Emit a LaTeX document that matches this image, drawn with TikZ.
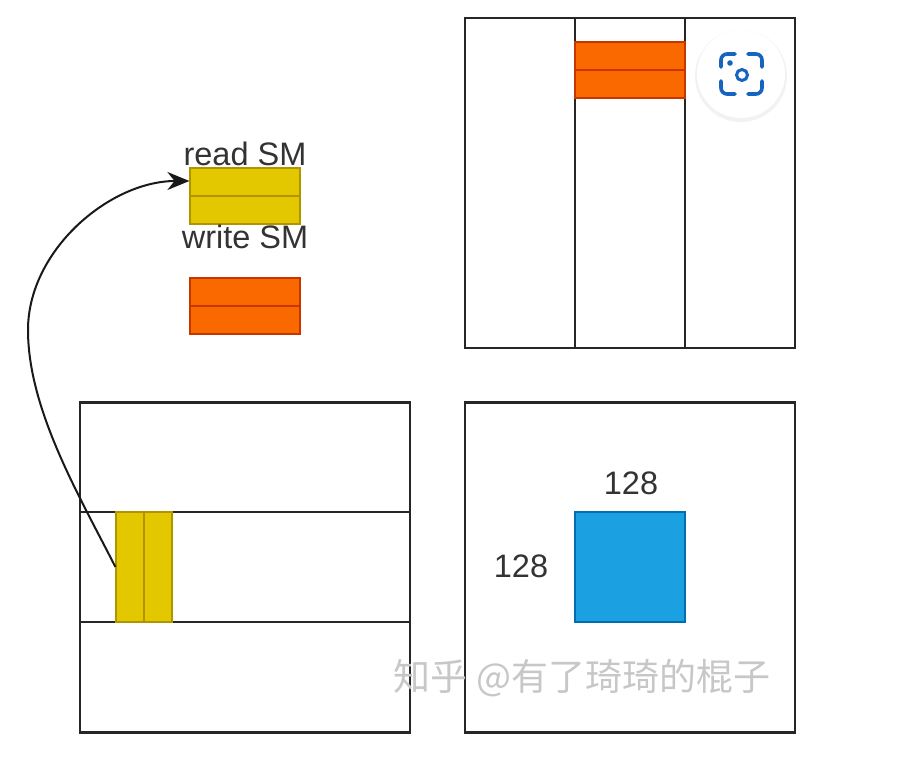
\documentclass[tikz,border=0pt]{standalone}
\usepackage{fontspec}
\setmainfont{Liberation Sans}
\newfontfamily\cjk{Noto Sans CJK SC}
\usetikzlibrary{arrows.meta}
\definecolor{yfill}{HTML}{E3C800}
\definecolor{ydraw}{HTML}{B09500}
\definecolor{ofill}{HTML}{FA6800}
\definecolor{odraw}{HTML}{C73500}
\definecolor{bfill}{HTML}{1BA1E2}
\definecolor{bdraw}{HTML}{006EAF}
\definecolor{lensblue}{HTML}{1565C0}
\tikzset{
  frame/.style={draw=black!85, line width=2.2pt, minimum width=330pt, minimum height=330pt, inner sep=0pt},
  ybox/.style={draw=ydraw, fill=yfill, line width=1.2pt, inner sep=0pt},
  obox/.style={draw=odraw, fill=ofill, line width=1.2pt, inner sep=0pt},
  lbl/.style={inner sep=0pt, font=\fontsize{32.5}{36}\selectfont, text=black!80},
  divline/.style={line width=2.2pt, draw=black!85},
}
\begin{document}
\begin{tikzpicture}[x=1pt,y=-1pt]
\useasboundingbox (0,0) rectangle (898,783);
% top-right frame
\node[frame] (tr) at (630,183) {};
\draw[divline] (575,18) -- (575,348);
\draw[divline] (685,18) -- (685,348);
\node[obox, minimum width=110pt, minimum height=56pt] (tro) at (630,70) {};
\draw[odraw, line width=1.2pt] (tro.west) -- (tro.east);
% bottom-left frame
\node[frame] (bl) at (245,567.5) {};
\draw[divline] (80,512) -- (410,512);
\draw[divline] (80,622) -- (410,622);
\node[ybox, minimum width=56pt, minimum height=110pt] (bly) at (144,567) {};
\draw[ydraw, line width=1.2pt] (bly.north) -- (bly.south);
% bottom-right frame
\node[frame] (br) at (630,567.5) {};
\node[draw=bdraw, fill=bfill, line width=1.2pt, minimum width=110pt, minimum height=110pt, inner sep=0pt] (blue) at (630,567) {};
\node[lbl] (top128) at (631,483) {128};
\node[lbl] (left128) at (521,566) {128};
% read / write SM
\node[ybox, minimum width=110pt, minimum height=56pt] (rsm) at (245,196) {};
\draw[ydraw, line width=1.2pt] (rsm.west) -- (rsm.east);
\node[lbl] (rlbl) at (245,154) {read SM};
\node[lbl] (wlbl) at (245,237) {write SM};
\node[obox, minimum width=110pt, minimum height=56pt] (wsm) at (245,306) {};
\draw[odraw, line width=1.2pt] (wsm.west) -- (wsm.east);
% arrow
\coordinate (mid) at (28,330);
\draw[line width=2pt, black!90, -{Stealth[length=22pt,width=18pt]}]
  (bly.west) .. controls (80,497) and (28,410) .. (mid)
  .. controls (28,250) and (110,181) .. ([yshift=15pt]rsm.west);
% watermark
\node[inner sep=0pt, text=black!22, font=\cjk\fontsize{37}{40}\selectfont] (wm) at (582,678) {知乎 @有了琦琦的棍子};
% lens icon
\fill[black!5] (741,76) circle (46);
\fill[white] (741,74) circle (44);
\begin{scope}[lensblue, line width=3.6pt, line cap=round]
  \draw[rounded corners=6pt] (721,67) -- (721,54) -- (735,54);
  \draw[rounded corners=6pt] (748,54) -- (762,54) -- (762,67);
  \draw[rounded corners=6pt] (762,81) -- (762,94) -- (748,94);
  \draw[rounded corners=6pt] (735,94) -- (721,94) -- (721,81);
  \draw[line width=3pt] (742,75) circle (5.5);
\end{scope}
\fill[lensblue] (730,63) circle (2.8);
\end{tikzpicture}
\end{document}
